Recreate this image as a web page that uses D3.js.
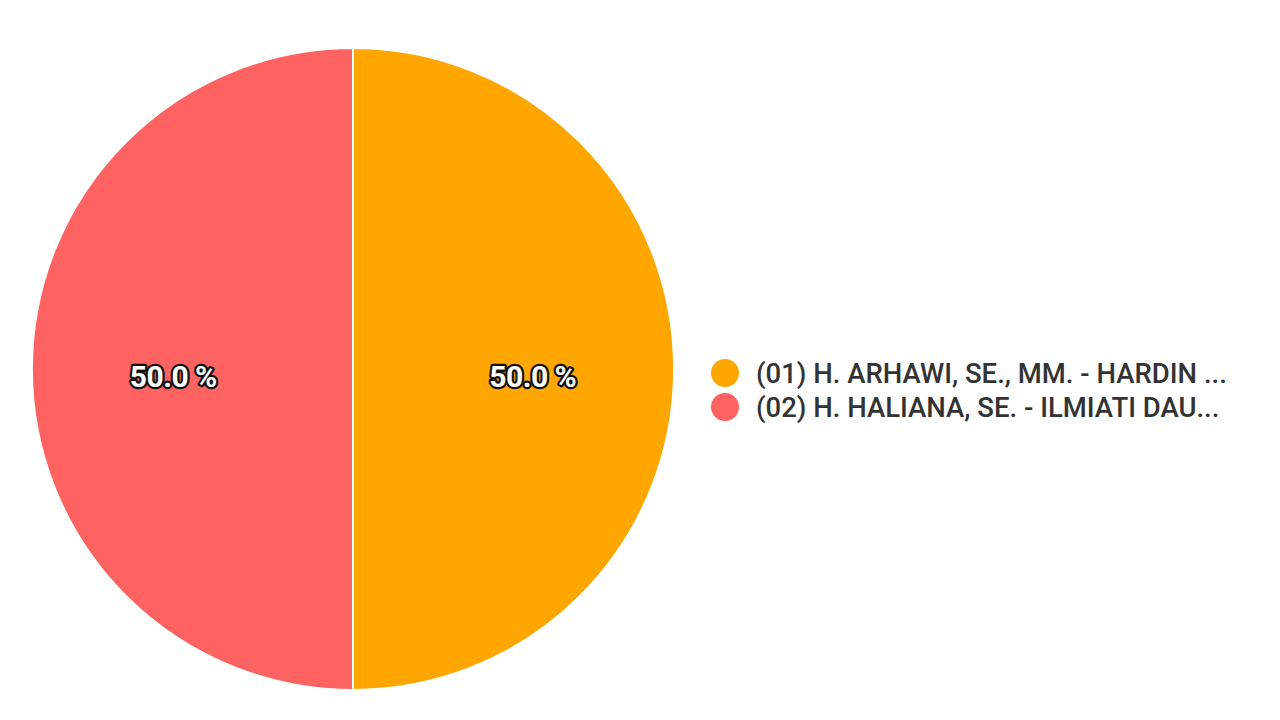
<!DOCTYPE html>
<html>
<head>
<meta charset="utf-8">
<script src="https://cdn.jsdelivr.net/npm/d3@7"></script>
<style>
  body { margin: 0; background: #fff; }
  svg { display: block; font-family: Roboto, sans-serif; }
</style>
</head>
<body>
<svg id="chart" width="1280" height="720"></svg>
<script>
// data
const labels = ["(01) H. ARHAWI, SE., MM. - HARDIN ...", "(02) H. HALIANA, SE. - ILMIATI DAU..."];
const values = [50, 50];
const colors = ["#FFA600", "#FF6361"];

const svg = d3.select("#chart");
const cx = 353, cy = 369, radius = 321;

const data = labels.map((l, i) => ({ label: l, value: values[i], color: colors[i] }));

const pie = d3.pie().sort(null).value(d => d.value);
const arc = d3.arc().innerRadius(0).outerRadius(radius);
const labelArc = d3.arc().innerRadius(radius * 0.56).outerRadius(radius * 0.56);

const g = svg.append("g").attr("transform", `translate(${cx},${cy})`);
const arcs = pie(data);

g.selectAll("path")
  .data(arcs)
  .enter()
  .append("path")
  .attr("d", arc)
  .attr("fill", d => d.data.color)
  .attr("stroke", "#fff")
  .attr("stroke-width", 2);

const total = d3.sum(values);
g.selectAll("text.pct")
  .data(arcs)
  .enter()
  .append("text")
  .attr("class", "pct")
  .attr("transform", d => `translate(${labelArc.centroid(d)[0]},${labelArc.centroid(d)[1] + 7})`)
  .attr("text-anchor", "middle")
  .attr("dominant-baseline", "central")
  .style("font-size", "30px")
  .style("font-weight", "bold")
  .style("fill", "#fff")
  .style("stroke", "#111")
  .style("stroke-width", "4.5px")
  .style("paint-order", "stroke")
  .style("stroke-linejoin", "round")
  .style("letter-spacing", "-0.5px")
  .text(d => (d.data.value / total * 100).toFixed(1) + " %");

// Legend
const legend = svg.append("g").attr("transform", "translate(725, 373)");
data.forEach((d, i) => {
  const row = legend.append("g").attr("transform", `translate(0, ${i * 34})`);
  row.append("circle").attr("r", 14).attr("fill", d.color);
  row.append("text")
    .attr("x", 31)
    .attr("dominant-baseline", "central")
    .style("font-size", "27.5px")
    .style("font-weight", 500)
    .style("fill", "#333")
    .text(d.label);
});
</script>
</body>
</html>
